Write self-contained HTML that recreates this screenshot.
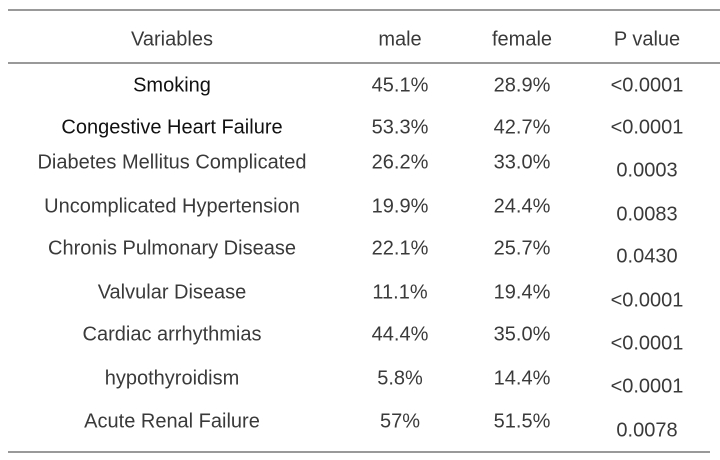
<!DOCTYPE html>
<html><head><style>
body{margin:0;width:720px;height:460px;background:#fff;position:relative;font-family:"Liberation Sans",sans-serif;font-size:20px;color:#3a3a3a;overflow:hidden}
.t{position:absolute;transform:translate(-50%,-50%);white-space:nowrap;margin-top:2px}
.l{position:absolute;height:2px;background:#999}
.d{color:#111}
</style></head><body>
<div class="l" style="left:8px;top:9px;width:712px"></div>
<div class="l" style="left:8px;top:62px;width:712px"></div>
<div class="l" style="left:8px;top:451px;width:702px"></div>
<div class="t" style="left:172px;top:38px">Variables</div>
<div class="t" style="left:400px;top:38px">male</div>
<div class="t" style="left:522px;top:38px">female</div>
<div class="t" style="left:647px;top:38px">P value</div>

<div class="t d" style="left:172px;top:84px">Smoking</div>
<div class="t" style="left:400px;top:84px">45.1%</div>
<div class="t" style="left:522px;top:84px">28.9%</div>
<div class="t" style="left:647px;top:84px">&lt;0.0001</div>

<div class="t d" style="left:172px;top:126px">Congestive Heart Failure</div>
<div class="t" style="left:400px;top:126px">53.3%</div>
<div class="t" style="left:522px;top:126px">42.7%</div>
<div class="t" style="left:647px;top:126px">&lt;0.0001</div>

<div class="t" style="left:172px;top:161px">Diabetes Mellitus Complicated</div>
<div class="t" style="left:400px;top:161px">26.2%</div>
<div class="t" style="left:522px;top:161px">33.0%</div>
<div class="t" style="left:647px;top:169px">0.0003</div>

<div class="t" style="left:172px;top:205px">Uncomplicated Hypertension</div>
<div class="t" style="left:400px;top:205px">19.9%</div>
<div class="t" style="left:522px;top:205px">24.4%</div>
<div class="t" style="left:647px;top:213px">0.0083</div>

<div class="t" style="left:172px;top:247px">Chronis Pulmonary Disease</div>
<div class="t" style="left:400px;top:247px">22.1%</div>
<div class="t" style="left:522px;top:247px">25.7%</div>
<div class="t" style="left:647px;top:255px">0.0430</div>

<div class="t" style="left:172px;top:291px">Valvular Disease</div>
<div class="t" style="left:400px;top:291px">11.1%</div>
<div class="t" style="left:522px;top:291px">19.4%</div>
<div class="t" style="left:647px;top:299px">&lt;0.0001</div>

<div class="t" style="left:172px;top:333px">Cardiac arrhythmias</div>
<div class="t" style="left:400px;top:333px">44.4%</div>
<div class="t" style="left:522px;top:333px">35.0%</div>
<div class="t" style="left:647px;top:342px">&lt;0.0001</div>

<div class="t" style="left:172px;top:377px">hypothyroidism</div>
<div class="t" style="left:400px;top:377px">5.8%</div>
<div class="t" style="left:522px;top:377px">14.4%</div>
<div class="t" style="left:647px;top:385px">&lt;0.0001</div>

<div class="t" style="left:172px;top:420px">Acute Renal Failure</div>
<div class="t" style="left:400px;top:420px">57%</div>
<div class="t" style="left:522px;top:420px">51.5%</div>
<div class="t" style="left:647px;top:429px">0.0078</div>
</body></html>
